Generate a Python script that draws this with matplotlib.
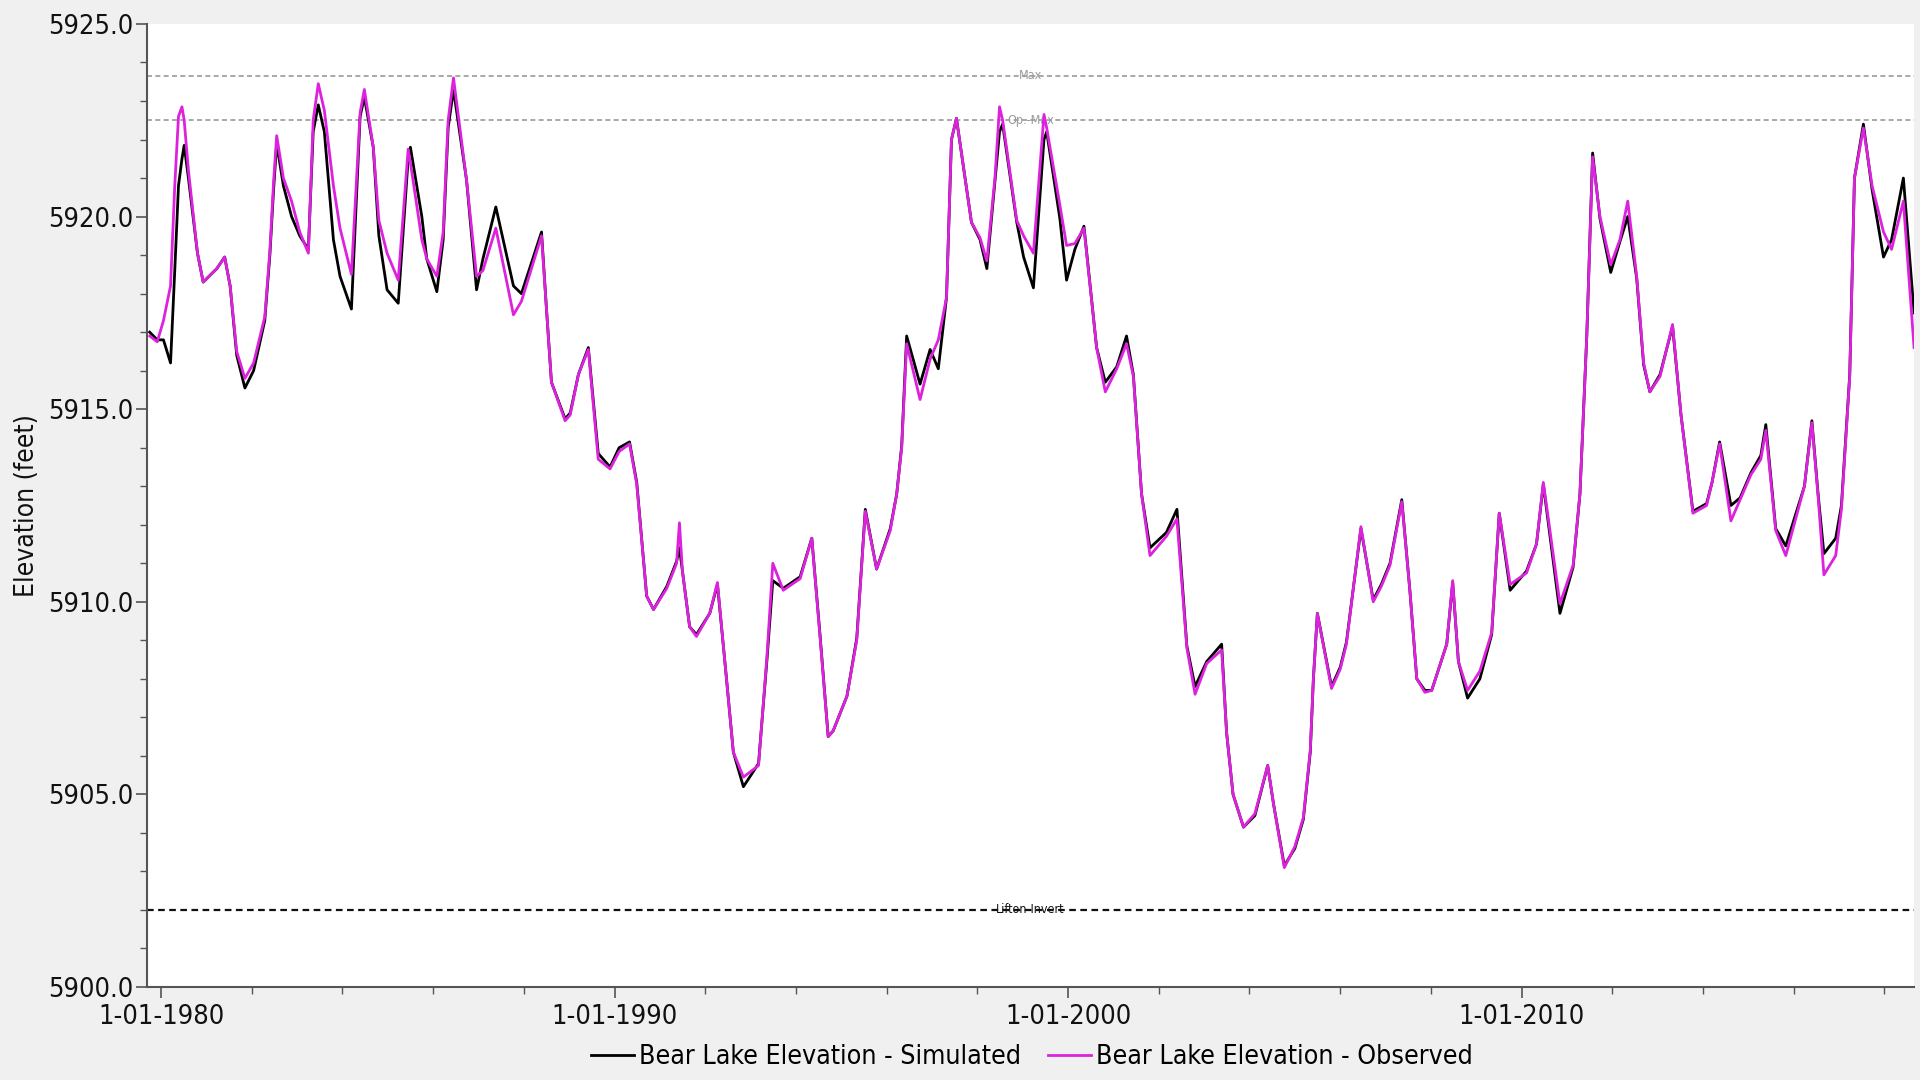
import numpy as np
import pandas as pd
import matplotlib
matplotlib.use("Agg")
import matplotlib.pyplot as plt
import matplotlib.dates as mdates
from matplotlib.ticker import MultipleLocator, FuncFormatter

plt.rcParams['font.family'] = ['DejaVu Sans']
plt.rcParams['font.stretch'] = 'condensed'

# Bear Lake end-of-period elevations (ft), turning points of each year
dates = [
    "1979-10-01", "1979-12-01", "1980-01-20", "1980-03-17", "1980-04-20", "1980-05-20",
    "1980-06-17", "1980-07-05", "1980-08-08", "1980-10-20", "1980-12-05", "1981-03-25",
    "1981-05-27", "1981-07-10", "1981-09-01", "1981-11-06", "1982-01-15", "1982-04-15",
    "1982-05-26", "1982-06-25", "1982-07-20", "1982-09-12", "1982-11-17", "1983-01-22",
    "1983-04-01", "1983-05-10", "1983-06-20", "1983-08-08", "1983-10-20", "1983-12-12",
    "1984-03-13", "1984-05-22", "1984-06-25", "1984-09-05", "1984-10-20", "1984-12-25",
    "1985-03-25", "1985-06-13", "1985-07-01", "1985-10-01", "1985-11-10", "1986-01-30",
    "1986-03-22", "1986-05-01", "1986-06-13", "1986-09-26", "1986-12-16", "1987-02-05",
    "1987-05-20", "1987-10-09", "1987-12-12", "1988-05-22", "1988-07-01", "1988-08-10",
    "1988-11-28", "1989-01-08", "1989-03-15", "1989-06-03", "1989-08-22", "1989-11-25",
    "1990-02-06", "1990-05-01", "1990-06-28", "1990-09-16", "1990-11-10", "1991-02-25",
    "1991-05-15", "1991-06-07", "1991-07-01", "1991-08-28", "1991-10-22", "1992-02-06",
    "1992-04-08", "1992-06-20", "1992-08-14", "1992-11-03", "1993-03-05", "1993-05-12",
    "1993-06-28", "1993-09-20", "1994-02-03", "1994-05-08", "1994-07-13", "1994-09-17",
    "1994-10-27", "1995-02-15", "1995-05-05", "1995-07-13", "1995-10-12", "1996-01-30",
    "1996-03-22", "1996-05-01", "1996-06-10", "1996-09-26", "1996-12-16", "1997-02-20",
    "1997-04-27", "1997-06-06", "1997-07-16", "1997-11-14", "1998-01-22", "1998-03-18",
    "1998-05-22", "1998-06-28", "1998-07-23", "1998-11-14", "1999-01-08", "1999-03-28",
    "1999-06-21", "1999-07-13", "1999-10-27", "1999-12-20", "2000-02-25", "2000-05-08",
    "2000-08-18", "2000-10-27", "2001-01-27", "2001-04-16", "2001-06-10", "2001-08-15",
    "2001-10-22", "2002-03-03", "2002-05-27", "2002-08-15", "2002-10-20", "2003-01-22",
    "2003-05-22", "2003-07-01", "2003-08-22", "2003-11-14", "2004-02-14", "2004-05-27",
    "2004-07-13", "2004-10-08", "2005-01-01", "2005-03-10", "2005-05-05", "2005-05-30",
    "2005-07-01", "2005-10-23", "2006-01-01", "2006-02-20", "2006-06-17", "2006-09-24",
    "2006-11-28", "2007-02-06", "2007-05-12", "2007-07-16", "2007-09-10", "2007-11-14",
    "2008-01-08", "2008-05-08", "2008-06-25", "2008-08-10", "2008-10-23", "2009-01-30",
    "2009-05-05", "2009-07-05", "2009-10-01", "2010-02-10", "2010-05-01", "2010-06-25",
    "2010-11-06", "2011-02-20", "2011-04-16", "2011-06-10", "2011-07-27", "2011-09-24",
    "2011-12-20", "2012-03-03", "2012-05-05", "2012-07-16", "2012-09-10", "2012-10-30",
    "2013-01-20", "2013-05-01", "2013-07-08", "2013-10-12", "2014-01-30", "2014-03-15",
    "2014-05-15", "2014-08-14", "2014-10-27", "2015-01-22", "2015-04-12", "2015-05-22",
    "2015-08-10", "2015-10-30", "2016-03-28", "2016-05-27", "2016-07-16", "2016-09-01",
    "2016-12-05", "2017-01-20", "2017-03-28", "2017-05-05", "2017-07-16", "2017-09-24",
    "2017-12-25", "2018-02-28", "2018-06-03", "2018-08-28",
]

observed = [
    5916.9, 5916.75, 5917.3, 5918.2, 5920.8, 5922.6,
    5922.85, 5922.5, 5921.2, 5919.05, 5918.3, 5918.65,
    5918.95, 5918.2, 5916.5, 5915.8, 5916.2, 5917.4,
    5919.1, 5920.9, 5922.1, 5921.0, 5920.4, 5919.6,
    5919.05, 5922.5, 5923.45, 5922.75, 5920.8, 5919.7,
    5918.5, 5922.7, 5923.3, 5921.8, 5919.9, 5919.05,
    5918.35, 5921.75, 5921.4, 5919.4, 5918.9, 5918.45,
    5919.6, 5922.5, 5923.6, 5920.95, 5918.45, 5918.6,
    5919.7, 5917.45, 5917.8, 5919.5, 5917.6, 5915.7,
    5914.7, 5914.85, 5915.9, 5916.55, 5913.7, 5913.45,
    5913.9, 5914.1, 5913.05, 5910.15, 5909.8, 5910.35,
    5911.0, 5912.05, 5910.8, 5909.35, 5909.1, 5909.7,
    5910.5, 5908.0, 5906.1, 5905.45, 5905.75, 5908.6,
    5911.0, 5910.3, 5910.6, 5911.65, 5909.1, 5906.5,
    5906.65, 5907.55, 5909.0, 5912.35, 5910.85, 5911.85,
    5912.8, 5914.0, 5916.7, 5915.25, 5916.3, 5916.8,
    5917.9, 5922.0, 5922.55, 5919.85, 5919.45, 5918.85,
    5921.0, 5922.85, 5922.5, 5919.9, 5919.5, 5919.05,
    5922.65, 5922.3, 5920.3, 5919.25, 5919.3, 5919.7,
    5916.6, 5915.45, 5916.05, 5916.7, 5915.85, 5912.8,
    5911.2, 5911.7, 5912.15, 5908.8, 5907.6, 5908.4,
    5908.75, 5906.6, 5905.0, 5904.15, 5904.5, 5905.75,
    5904.75, 5903.1, 5903.65, 5904.4, 5906.15, 5908.0,
    5909.7, 5907.75, 5908.25, 5908.9, 5911.95, 5910.0,
    5910.4, 5910.95, 5912.6, 5910.3, 5908.0, 5907.65,
    5907.7, 5908.9, 5910.55, 5908.45, 5907.7, 5908.2,
    5909.2, 5912.3, 5910.45, 5910.75, 5911.5, 5913.1,
    5909.95, 5910.95, 5912.8, 5916.9, 5921.55, 5920.0,
    5918.75, 5919.4, 5920.4, 5918.45, 5916.2, 5915.45,
    5915.85, 5917.2, 5914.85, 5912.3, 5912.5, 5913.1,
    5914.1, 5912.1, 5912.65, 5913.3, 5913.7, 5914.45,
    5911.85, 5911.2, 5913.0, 5914.65, 5912.75, 5910.7,
    5911.2, 5912.4, 5915.85, 5921.0, 5922.3, 5920.8,
    5919.6, 5919.15, 5920.4, 5916.6,
]

simulated = [
    5917.0, 5916.8, 5916.8, 5916.2, 5918.6, 5920.8,
    5921.5, 5921.85, 5921.0, 5919.05, 5918.3, 5918.65,
    5918.95, 5918.2, 5916.4, 5915.55, 5916.0, 5917.3,
    5919.0, 5920.7, 5921.9, 5920.8, 5920.0, 5919.5,
    5919.15, 5922.2, 5922.9, 5922.2, 5919.4, 5918.45,
    5917.6, 5922.6, 5923.1, 5921.8, 5919.5, 5918.1,
    5917.75, 5921.5, 5921.8, 5920.0, 5918.9, 5918.05,
    5919.4, 5922.3, 5923.3, 5920.95, 5918.1, 5918.9,
    5920.25, 5918.2, 5918.0, 5919.6, 5917.6, 5915.7,
    5914.75, 5914.9, 5915.9, 5916.6, 5913.85, 5913.5,
    5914.0, 5914.15, 5913.1, 5910.15, 5909.8, 5910.4,
    5911.05, 5911.4, 5910.8, 5909.35, 5909.15, 5909.7,
    5910.45, 5908.0, 5906.1, 5905.2, 5905.8, 5908.5,
    5910.55, 5910.35, 5910.65, 5911.65, 5909.15, 5906.5,
    5906.65, 5907.55, 5909.05, 5912.4, 5910.85, 5911.9,
    5912.8, 5914.05, 5916.9, 5915.65, 5916.55, 5916.05,
    5917.9, 5922.0, 5922.55, 5919.85, 5919.4, 5918.65,
    5920.9, 5922.2, 5922.4, 5919.85, 5918.95, 5918.15,
    5922.0, 5922.2, 5919.95, 5918.35, 5919.15, 5919.75,
    5916.6, 5915.7, 5916.1, 5916.9, 5915.9, 5912.8,
    5911.4, 5911.8, 5912.4, 5908.85, 5907.8, 5908.45,
    5908.9, 5906.6, 5905.0, 5904.15, 5904.45, 5905.75,
    5904.75, 5903.15, 5903.6, 5904.35, 5906.1, 5908.0,
    5909.7, 5907.8, 5908.3, 5908.95, 5911.9, 5910.05,
    5910.45, 5911.0, 5912.65, 5910.3, 5908.0, 5907.7,
    5907.7, 5908.9, 5910.5, 5908.45, 5907.5, 5908.0,
    5909.15, 5912.3, 5910.3, 5910.8, 5911.5, 5913.05,
    5909.7, 5910.9, 5912.8, 5916.9, 5921.65, 5919.95,
    5918.55, 5919.35, 5920.0, 5918.4, 5916.15, 5915.45,
    5915.9, 5917.15, 5914.85, 5912.35, 5912.55, 5913.1,
    5914.15, 5912.5, 5912.7, 5913.35, 5913.8, 5914.6,
    5911.9, 5911.45, 5913.0, 5914.7, 5912.8, 5911.25,
    5911.65, 5912.5, 5915.9, 5921.0, 5922.4, 5920.7,
    5918.95, 5919.4, 5921.0, 5917.5,
]

# operating levels
level_names = ["Max", "Op.-Max", "Lifton-Invert"]
level_values = [5923.65, 5922.5, 5902.0]
level_colors = ["#9a9a9a", "#9a9a9a", "#111111"]

t = pd.to_datetime(dates)

fig = plt.figure(figsize=(19.2, 10.8), dpi=100, facecolor="#f0f0f0")
ax = fig.add_axes([0.0766, 0.0861, 0.9203, 0.8917])
ax.set_facecolor("white")

for name, val, col in zip(level_names, level_values, level_colors):
    lw = 1.6 if col == "#111111" else 1.2
    ax.axhline(val, color=col, lw=lw, linestyle=(0, (3, 2)), zorder=1)
    ax.text(0.5, val, name, transform=ax.get_yaxis_transform(), ha="center",
            va="center", fontsize=9, color=col, zorder=2)

ax.plot(t, simulated, color="black", lw=2.0, label="Bear Lake Elevation - Simulated",
        zorder=3, solid_joinstyle="round")
ax.plot(t, observed, color="#dd22dd", lw=2.0, label="Bear Lake Elevation - Observed",
        zorder=4, solid_joinstyle="round")

ax.set_ylim(5900, 5925)
ax.set_xlim(pd.Timestamp("1979-09-10"), pd.Timestamp("2018-08-28"))

ax.yaxis.set_major_locator(MultipleLocator(5))
ax.yaxis.set_minor_locator(MultipleLocator(1))
ax.yaxis.set_major_formatter(FuncFormatter(lambda v, p: f"{v:.1f}"))
ax.xaxis.set_major_locator(mdates.YearLocator(10))
ax.xaxis.set_minor_locator(mdates.YearLocator(2))
ax.xaxis.set_major_formatter(FuncFormatter(
    lambda v, p: "{0}-{1:02d}-{2}".format(mdates.num2date(v).month, mdates.num2date(v).day,
                                          mdates.num2date(v).year)))

for s in ["top", "right"]:
    ax.spines[s].set_visible(False)
for s in ["left", "bottom"]:
    ax.spines[s].set_color("#555555")
    ax.spines[s].set_linewidth(1.5)

ax.tick_params(axis="both", which="major", length=8, width=1.2, color="#555555",
               labelsize=19.5, labelcolor="#111111", pad=2)
ax.tick_params(axis="x", which="major", pad=4)
ax.tick_params(axis="both", which="minor", length=5, width=1.0, color="#555555")

ax.set_ylabel("Elevation (feet)", fontsize=19, color="#111111", labelpad=6)

fig.legend(loc="center", bbox_to_anchor=(0.5375, 0.021), ncol=2, frameon=False,
           fontsize=19.2, handlelength=1.6, handletextpad=0.2, columnspacing=1.0)

fig.savefig("out.png", dpi=100, facecolor=fig.get_facecolor())
